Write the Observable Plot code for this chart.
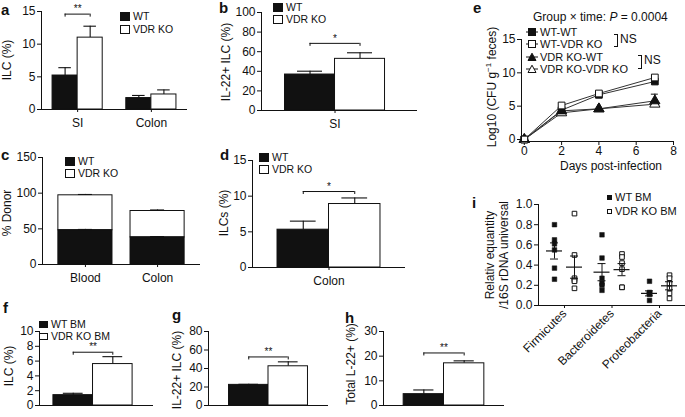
<!DOCTYPE html>
<html><head><meta charset="utf-8">
<script src="https://cdn.jsdelivr.net/npm/d3@7"></script>
<script src="https://cdn.jsdelivr.net/npm/@observablehq/plot@0.6"></script>
<style>
body{margin:0;background:#fff;}
#fig{position:relative;width:685px;height:417px;overflow:hidden;font-family:"Liberation Sans",Arial,Helvetica,sans-serif;color:#111;background:#fff;}
.abs{position:absolute;white-space:nowrap;line-height:1.15;}
.letter{font-weight:bold;font-size:15px;line-height:15px;}
.sw{position:absolute;border:1px solid #111;box-sizing:border-box;}
</style></head><body><div id="fig"></div>
<script>
// ---------- DATA ----------
// a: ILC (%)
const aCats = ["SI", "Colon"];
const aWT = [5.2, 1.75], aWTerr = [1.2, 0.4];
const aKO = [11.0, 2.3], aKOerr = [1.75, 0.7];
const aSigCat = ["SI"], aSigY = [14.6], aSigLabel = ["**"];
// b: IL-22+ ILC (%)
const bCats = ["SI"];
const bWT = [36.7], bWTerr = [3.4];
const bKO = [52.7], bKOerr = [6.2];
const bSigCat = ["SI"], bSigY = [68.5], bSigLabel = ["*"];
// c: % Donor (stacked)
const cCats = ["Blood", "Colon"];
const cWT = [48, 38], cWTerr = [1.2, 1.2];
const cKO = [49, 37], cKOerr = [1.2, 1.5];
// d: ILCs (%)
const dCats = ["Colon"];
const dWT = [5.3], dWTerr = [1.2];
const dKO = [8.9], dKOerr = [0.85];
const dSigCat = ["Colon"], dSigY = [10.65], dSigLabel = ["*"];
// e: Log10 CFU
const eDays = [0, 2, 4, 7];
const eSeries = ["WT-WT", "WT-VDR KO", "VDR KO-WT", "VDR KO-VDR KO"];
const eWTWT = [0, 4.4, 6.7, 8.7];
const eWTKO = [0, 5.1, 6.9, 9.3];
const eKOWT = [0, 4.3, 4.6, 5.8];
const eKOKO = [0, 4.0, 4.6, 5.3];
const eErrSeries = ["VDR KO-WT"], eErrDay = [7], eErrLo = [5.8], eErrHi = [6.8];
// f: ILC (%) BM
const fCats = ["x"];
const fWT = [1.4], fWTerr = [0.25];
const fKO = [5.6], fKOerr = [1.0];
const fSigCat = ["x"], fSigY = [7.2], fSigLabel = ["**"];
// g: IL-22+ ILC (%)
const gCats = ["x"];
const gWT = [22.3], gWTerr = [0.6];
const gKO = [42.4], gKOerr = [4.8];
const gSigCat = ["x"], gSigY = [52.5], gSigLabel = ["**"];
// h: Total IL-22+ (%)
const hCats = ["x"];
const hWT = [4.6], hWTerr = [1.7];
const hKO = [17.1], hKOerr = [1.0];
const hSigCat = ["x"], hSigY = [21.3], hSigLabel = ["**"];
// i: relative quantity
const iPhyla = ["Firmicutes", "Bacteroidetes", "Proteobacteria"];
const iWTFirm = [0.80, 0.65, 0.61, 0.55, 0.37, 0.26];
const iKOFirm = [0.91, 0.50, 0.27, 0.25, 0.24, 0.17];
const iWTBact = [0.70, 0.47, 0.27, 0.22, 0.20, 0.15];
const iKOBact = [0.51, 0.48, 0.42, 0.36, 0.18, 0.18];
const iWTProt = [0.24, 0.13, 0.12, 0.12, 0.11, 0.05];
const iKOProt = [0.30, 0.27, 0.22, 0.17, 0.12, 0.07];
const iWTMean = [0.54, 0.33, 0.12], iWTSem = [0.08, 0.085, 0.025];
const iKOMean = [0.38, 0.355, 0.195], iKOSem = [0.11, 0.06, 0.04];

// ---------- HELPERS ----------
const FONT = '"Liberation Sans", Arial, Helvetica, sans-serif';
const INK = "#111";
const fig = document.getElementById("fig");

function put(svg, sx, sy) {
  svg.style.position = "absolute";
  svg.style.left = sx + "px";
  svg.style.top = sy + "px";
  svg.style.overflow = "visible";
  fig.appendChild(svg);
}
function txt(html, x, y, size, extra) {
  const d = document.createElement("div");
  d.className = "abs";
  d.innerHTML = html;
  d.style.left = x + "px";
  d.style.top = y + "px";
  d.style.fontSize = size + "px";
  Object.assign(d.style, extra || {});
  fig.appendChild(d);
  return d;
}
function letter(ch, x, y) {
  const d = txt(ch, x, y, 15);
  d.className = "abs letter";
}
function ylab(html, cx, cy, size) {
  txt(html, cx, cy, size || 12, {transform: "translate(-50%,-50%) rotate(-90deg)", textAlign: "center"});
}
function swLegend(items, x, cy0, dy, w, h, size) {
  items.forEach((it, k) => {
    const cy = cy0 + k * dy;
    const s = document.createElement("div");
    s.className = "sw";
    s.style.left = x + "px";
    s.style.top = (cy - h / 2) + "px";
    s.style.width = w + "px";
    s.style.height = h + "px";
    s.style.background = it.fill;
    fig.appendChild(s);
    txt(it.label, x + w + 3, cy - size * 0.58, size);
  });
}
const baseStyle = {fontFamily: FONT, fontSize: "12px", background: "transparent", overflow: "visible", color: INK};

function barPanel(o) {
  const pIn = o.pIn ?? 0, pOut = o.pOut, align = o.align ?? 0.5;
  const bw = d3.scaleBand().domain(o.cats).range([0, o.R - o.L]).paddingInner(pIn).paddingOuter(pOut).align(align).bandwidth();
  const rows = o.cats.map((c, i) => ({cat: c, wt: o.wt[i], wtTop: o.wt[i] + o.wtErr[i], ko: o.ko[i], koTop: o.ko[i] + o.koErr[i]}));
  const sig = (o.sigCat || []).map((c, i) => ({cat: c, y: o.sigY[i], label: o.sigLabel[i]}));
  const svg = Plot.plot({
    width: o.w, height: o.h,
    marginLeft: o.L - o.sx, marginRight: o.sx + o.w - o.R,
    marginTop: o.T - o.sy, marginBottom: o.sy + o.h - o.B,
    style: baseStyle,
    x: {type: "band", domain: o.cats, paddingInner: pIn, paddingOuter: pOut, align, round: false, label: null},
    y: {domain: [0, o.yMax], label: null},
    marks: [
      Plot.axisX({tickSize: o.hideX ? 0 : 3, tickPadding: 6, fontSize: 12, tickFormat: o.hideX ? () => "" : undefined}),
      Plot.axisY(o.yTicks, {tickSize: 4, tickPadding: 2, fontSize: 12}),
      Plot.ruleX(rows, {x: "cat", y1: "wt", y2: "wtTop", dx: -bw / 4, stroke: INK, strokeWidth: 1.1}),
      Plot.tickY(rows, {x: "cat", y: "wtTop", insetLeft: bw / 8, insetRight: 5 * bw / 8, stroke: INK, strokeWidth: 1.1}),
      Plot.ruleX(rows, {x: "cat", y1: "ko", y2: "koTop", dx: bw / 4, stroke: INK, strokeWidth: 1.1}),
      Plot.tickY(rows, {x: "cat", y: "koTop", insetLeft: 5 * bw / 8, insetRight: bw / 8, stroke: INK, strokeWidth: 1.1}),
      Plot.barY(rows, {x: "cat", y: "wt", fill: INK, stroke: INK, insetRight: bw / 2}),
      Plot.barY(rows, {x: "cat", y: "ko", fill: "#fff", stroke: INK, insetLeft: bw / 2}),
      Plot.ruleY([0], {stroke: INK}),
      Plot.frame({anchor: "left", stroke: INK}),
      Plot.tickY(sig, {x: "cat", y: "y", insetLeft: bw / 4, insetRight: bw / 4, stroke: INK}),
      Plot.ruleX(sig, {x: "cat", y1: "y", y2: "y", dx: -bw / 4, insetBottom: -3, stroke: INK}),
      Plot.ruleX(sig, {x: "cat", y1: "y", y2: "y", dx: bw / 4, insetBottom: -3, stroke: INK}),
      Plot.text(sig, {x: "cat", y: "y", text: "label", dy: -5, fontSize: 10, fill: INK})
    ]
  });
  put(svg, o.sx, o.sy);
}

const WTKO = [{label: "WT", fill: INK}, {label: "VDR KO", fill: "#fff"}];

// ---------- PANEL a ----------
barPanel({sx: 0, sy: 0, w: 195, h: 140, L: 41, R: 187, T: 11, B: 109,
  cats: aCats, wt: aWT, wtErr: aWTerr, ko: aKO, koErr: aKOerr, yMax: 15, yTicks: [0, 5, 10, 15],
  sigCat: aSigCat, sigY: aSigY, sigLabel: aSigLabel, pIn: 0.32, pOut: 0.15});
letter("a", 1, 2);
ylab("ILC (%)", 8, 60);
swLegend(WTKO, 120, 16, 13.5, 10, 9, 10.5);

// ---------- PANEL b ----------
barPanel({sx: 215, sy: 0, w: 210, h: 140, L: 261, R: 417, T: 12, B: 110,
  cats: bCats, wt: bWT, wtErr: bWTerr, ko: bKO, koErr: bKOerr, yMax: 100, yTicks: [0, 20, 40, 60, 80, 100],
  sigCat: bSigCat, sigY: bSigY, sigLabel: bSigLabel, pOut: 0.28, align: 0.42});
letter("b", 219, 0);
ylab("IL-22+ ILC (%)", 227, 62);
swLegend(WTKO, 273, 7, 12.5, 10, 9, 10.5);

// ---------- PANEL c ----------
{
  const sx = 0, sy = 145, w = 210, h = 150, L = 42, R = 200, T = 157, B = 264, yMax = 150;
  const pIn = 0.25, pOut = 0.22;
  const bw = d3.scaleBand().domain(cCats).range([0, R - L]).paddingInner(pIn).paddingOuter(pOut).bandwidth();
  const rows = cCats.map((c, i) => ({cat: c, wt: cWT[i], wtTop: cWT[i] + cWTerr[i], tot: cWT[i] + cKO[i], totTop: cWT[i] + cKO[i] + cKOerr[i]}));
  const svg = Plot.plot({
    width: w, height: h, marginLeft: L - sx, marginRight: sx + w - R, marginTop: T - sy, marginBottom: sy + h - B,
    style: baseStyle,
    x: {type: "band", domain: cCats, paddingInner: pIn, paddingOuter: pOut, round: false, label: null},
    y: {domain: [0, yMax], label: null},
    marks: [
      Plot.axisX({tickSize: 3, tickPadding: 6, fontSize: 12}),
      Plot.axisY([0, 50, 100, 150], {tickSize: 4, tickPadding: 2, fontSize: 12}),
      Plot.barY(rows, {x: "cat", y1: "wt", y2: "tot", fill: "#fff", stroke: INK}),
      Plot.barY(rows, {x: "cat", y1: 0, y2: "wt", fill: INK, stroke: INK}),
      Plot.ruleX(rows, {x: "cat", y1: "wt", y2: "wtTop", stroke: INK}),
      Plot.tickY(rows, {x: "cat", y: "wtTop", insetLeft: bw / 2 - 7, insetRight: bw / 2 - 7, stroke: INK}),
      Plot.ruleX(rows, {x: "cat", y1: "tot", y2: "totTop", stroke: INK}),
      Plot.tickY(rows, {x: "cat", y: "totTop", insetLeft: bw / 2 - 7, insetRight: bw / 2 - 7, stroke: INK}),
      Plot.ruleY([0], {stroke: INK}),
      Plot.frame({anchor: "left", stroke: INK})
    ]
  });
  put(svg, sx, sy);
  letter("c", 1, 147);
  ylab("% Donor", 8, 213);
  swLegend(WTKO, 65, 161, 12.5, 10, 9, 10.5);
}

// ---------- PANEL d ----------
barPanel({sx: 215, sy: 145, w: 200, h: 150, L: 252, R: 405, T: 160, B: 267,
  cats: dCats, wt: dWT, wtErr: dWTerr, ko: dKO, koErr: dKOerr, yMax: 15, yTicks: [0, 5, 10, 15],
  sigCat: dSigCat, sigY: dSigY, sigLabel: dSigLabel, pOut: 0.243, align: 0.5});
letter("d", 220, 147);
ylab("ILCs (%)", 225, 213);
swLegend(WTKO, 259, 157, 12.5, 10, 9, 10.5);

// ---------- PANEL e ----------
{
  const sx = 470, sy = 25, w = 215, h = 150, L = 521, R = 673, T = 39, B = 141;
  const vals = [eWTWT, eWTKO, eKOWT, eKOKO];
  const rows = eSeries.flatMap((s, k) => eDays.map((d, i) => ({series: s, day: d, v: vals[k][i]})));
  const err = eErrSeries.map((s, i) => ({series: s, day: eErrDay[i], lo: eErrLo[i], hi: eErrHi[i]}));
  const sym = {"WT-WT": ["square", INK], "WT-VDR KO": ["square", "#fff"], "VDR KO-WT": ["triangle", INK], "VDR KO-VDR KO": ["triangle", "#fff"]};
  const order = ["VDR KO-VDR KO", "VDR KO-WT", "WT-WT", "WT-VDR KO"];
  const svg = Plot.plot({
    width: w, height: h, marginLeft: L - sx, marginRight: sx + w - R, marginTop: T - sy, marginBottom: sy + h - B,
    style: baseStyle,
    x: {domain: [-0.15, 8], label: null},
    y: {domain: [-0.3, 15], label: null},
    marks: [
      Plot.axisX([0, 2, 4, 6, 8], {tickSize: 4, tickPadding: 1, fontSize: 12}),
      Plot.axisY([0, 5, 10, 15], {tickSize: 4, tickPadding: 2, fontSize: 12}),
      Plot.ruleX(err, {x: "day", y1: "lo", y2: "hi", stroke: INK}),
      Plot.ruleY(err, {x1: "day", x2: "day", y: "hi", insetLeft: -3.5, insetRight: -3.5, stroke: INK}),
      Plot.line(rows, {x: "day", y: "v", z: "series", stroke: "#333", strokeWidth: 1}),
      ...order.map(s => Plot.dot(rows.filter(r => r.series === s), {x: "day", y: "v", symbol: sym[s][0], fill: sym[s][1], stroke: INK, strokeWidth: 1, r: 3.8})),
      Plot.frame({anchor: "left", stroke: INK}),
      Plot.frame({anchor: "bottom", stroke: INK})
    ]
  });
  put(svg, sx, sy);
  letter("e", 473, 0);
  txt('Group × time: <i>P</i> = 0.0004', 533, 11, 12);
  ylab("Log10 (CFU g<sup style='font-size:8px'>−1</sup> feces)", 492, 87, 12);
  txt("Days post-infection", 611, 160, 12, {transform: "translateX(-50%)"});
  // legend
  const legItems = [["WT-WT", "sq", INK], ["WT-VDR KO", "sq", "#fff"], ["VDR KO-WT", "tri", INK], ["VDR KO-VDR KO", "tri", "#fff"]];
  legItems.forEach(([lab, shape, fill], k) => {
    const cy = 33 + k * 12.3;
    const mk = shape === "sq"
      ? `<rect x="2.5" y="1.5" width="7" height="7" fill="${fill}" stroke="${INK}"/>`
      : `<path d="M6,1.2 L10,8.5 L2,8.5 Z" fill="${fill}" stroke="${INK}"/>`;
    txt(`<svg width="12" height="10" style="vertical-align:-1px;margin-right:2px"><line x1="0" x2="12" y1="5" y2="5" stroke="${INK}"/>${mk}</svg>${lab}`, 526, cy - 7, 11);
  });
  const br = (x, y, hgt) => { const b = document.createElement("div"); b.className = "abs"; Object.assign(b.style, {left: x + "px", top: y + "px", width: "3px", height: hgt + "px", borderTop: "1px solid " + INK, borderRight: "1px solid " + INK, borderBottom: "1px solid " + INK}); fig.appendChild(b); };
  br(614, 34, 11); txt("NS", 620, 33, 12);
  br(638, 55, 12); txt("NS", 644, 54, 12);
}

// ---------- PANEL f ----------
barPanel({sx: 0, sy: 320, w: 160, h: 97, L: 39, R: 153, T: 331, B: 405,
  cats: fCats, wt: fWT, wtErr: fWTerr, ko: fKO, koErr: fKOerr, yMax: 10, yTicks: [0, 2, 4, 6, 8, 10],
  sigCat: fSigCat, sigY: fSigY, sigLabel: fSigLabel, pOut: 0.22, align: 0.4, hideX: true});
letter("f", 3, 300);
ylab("ILC (%)", 10, 366);
swLegend([{label: "WT BM", fill: INK}, {label: "VDR KO BM", fill: "#fff"}], 39, 324, 12, 9, 7, 10.5);

// ---------- PANEL g ----------
barPanel({sx: 165, sy: 320, w: 170, h: 97, L: 208, R: 328, T: 331, B: 405,
  cats: gCats, wt: gWT, wtErr: gWTerr, ko: gKO, koErr: gKOerr, yMax: 80, yTicks: [0, 20, 40, 60, 80],
  sigCat: gSigCat, sigY: gSigY, sigLabel: gSigLabel, pOut: 0.26, align: 0.5, hideX: true});
letter("g", 172, 307);
ylab("IL-22+ ILC (%)", 178, 370);

// ---------- PANEL h ----------
barPanel({sx: 340, sy: 320, w: 170, h: 97, L: 383, R: 504, T: 331, B: 405,
  cats: hCats, wt: hWT, wtErr: hWTerr, ko: hKO, koErr: hKOerr, yMax: 30, yTicks: [0, 10, 20, 30],
  sigCat: hSigCat, sigY: hSigY, sigLabel: hSigLabel, pOut: 0.25, align: 0.5, hideX: true});
letter("h", 345, 310);
ylab("Total L-22+ (%)", 352, 364);

// ---------- PANEL i ----------
{
  const sx = 505, sy = 195, w = 180, h = 200, L = 538, R = 685, T = 204, B = 305;
  const pOut = 0.047;
  const bw = d3.scaleBand().domain(iPhyla).range([0, R - L]).paddingInner(0).paddingOuter(pOut).bandwidth();
  const wtSets = [iWTFirm, iWTBact, iWTProt], koSets = [iKOFirm, iKOBact, iKOProt];
  const wtPts = iPhyla.flatMap((p, k) => wtSets[k].map(v => ({p, v})));
  const koPts = iPhyla.flatMap((p, k) => koSets[k].map(v => ({p, v})));
  const wtSum = iPhyla.map((p, k) => ({p, m: iWTMean[k], lo: iWTMean[k] - iWTSem[k], hi: iWTMean[k] + iWTSem[k]}));
  const koSum = iPhyla.map((p, k) => ({p, m: iKOMean[k], lo: iKOMean[k] - iKOSem[k], hi: iKOMean[k] + iKOSem[k]}));
  const off = 10;
  const meanMarks = (sum, dx) => [
    Plot.ruleX(sum, {x: "p", y1: "lo", y2: "hi", dx, stroke: INK}),
    Plot.tickY(sum, {x: "p", y: "m", dx, insetLeft: bw / 2 - 8, insetRight: bw / 2 - 8, stroke: INK, strokeWidth: 1.2}),
    Plot.tickY(sum, {x: "p", y: "lo", dx, insetLeft: bw / 2 - 4, insetRight: bw / 2 - 4, stroke: INK}),
    Plot.tickY(sum, {x: "p", y: "hi", dx, insetLeft: bw / 2 - 4, insetRight: bw / 2 - 4, stroke: INK})
  ];
  const svg = Plot.plot({
    width: w, height: h, marginLeft: L - sx, marginRight: sx + w - R, marginTop: T - sy, marginBottom: sy + h - B,
    style: baseStyle,
    x: {type: "band", domain: iPhyla, paddingInner: 0, paddingOuter: pOut, round: false, label: null},
    y: {domain: [0, 1], label: null},
    marks: [
      Plot.axisX({tickSize: 3, tickPadding: 3, tickRotate: -45, fontSize: 12}),
      Plot.axisY([0, 0.2, 0.4, 0.6, 0.8, 1.0], {tickSize: 4, tickPadding: 2, fontSize: 12, tickFormat: d3.format(".1f")}),
      Plot.dot(wtPts, {x: "p", y: "v", dx: -off, symbol: "square", fill: INK, stroke: INK, strokeWidth: 0.5, r: 2.6}),
      Plot.dot(koPts, {x: "p", y: "v", dx: off, symbol: "square", fill: "#fff", stroke: INK, strokeWidth: 1, r: 2.6}),
      ...meanMarks(wtSum, -off),
      ...meanMarks(koSum, off),
      Plot.ruleY([0], {stroke: INK}),
      Plot.frame({anchor: "left", stroke: INK})
    ]
  });
  put(svg, sx, sy);
  letter("i", 472, 195);
  ylab("Relativ equantity<br>/16S rDNA universal", 498, 255, 12);
  // legend
  [["WT BM", INK], ["VDR KO BM", "#fff"]].forEach(([lab, fill], k) => {
    const cy = 197 + k * 14;
    const s = document.createElement("div");
    s.className = "sw";
    Object.assign(s.style, {left: "607px", top: (cy - 2.5) + "px", width: "5px", height: "5px", background: fill});
    fig.appendChild(s);
    txt(lab, 615, cy - 6.5, 11);
  });
}
</script></body></html>
